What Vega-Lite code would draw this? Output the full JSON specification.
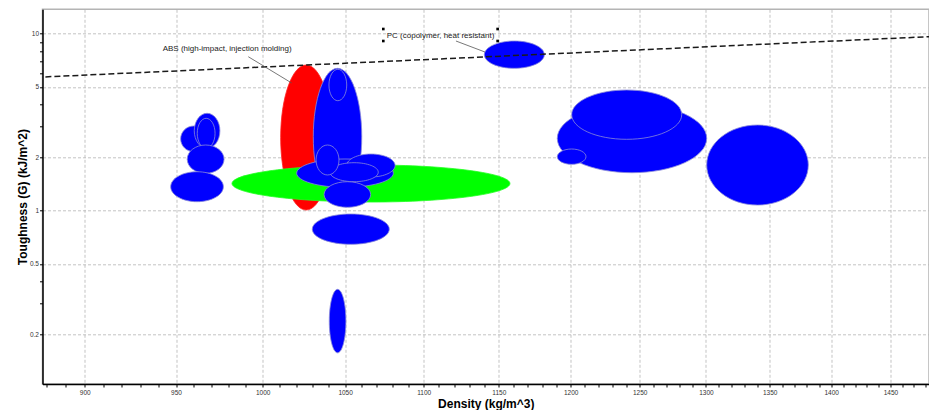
{
  "$schema": "https://vega.github.io/schema/vega-lite/v6.json",
  "width": 886.5,
  "height": 374.7,
  "autosize": {"type": "none"},
  "padding": {"left": 42.5, "top": 9.3, "right": 0, "bottom": 26},
  "background": "white",
  "config": {
    "font": "Liberation Sans",
    "view": {"stroke": "#b4b4b4", "strokeWidth": 1.5}
  },
  "datasets": {
    "ellipses": [
      {"name": "Material 1", "group": "Polymer", "rho_lo": 952.6, "rho_hi": 967.4, "g_lo": 2.153, "g_hi": 3.008},
      {"name": "Material 2", "group": "Polymer", "rho_lo": 960.3, "rho_hi": 975.0, "g_lo": 2.250, "g_hi": 3.549},
      {"name": "Material 3", "group": "Polymer", "rho_lo": 962.0, "rho_hi": 972.2, "g_lo": 2.250, "g_hi": 3.325},
      {"name": "Material 4", "group": "Polymer", "rho_lo": 956.3, "rho_hi": 977.4, "g_lo": 1.625, "g_hi": 2.349},
      {"name": "Material 5", "group": "Polymer", "rho_lo": 947.0, "rho_hi": 977.0, "g_lo": 1.123, "g_hi": 1.659},
      {"name": "ABS (high-impact, injection molding)", "group": "ABS", "rho_lo": 1010.7, "rho_hi": 1041.7, "g_lo": 1.008, "g_hi": 6.653},
      {"name": "Material 7", "group": "Polymer", "rho_lo": 1030.4, "rho_hi": 1060.4, "g_lo": 1.075, "g_hi": 6.374},
      {"name": "Material 8", "group": "Polymer", "rho_lo": 1040.0, "rho_hi": 1051.0, "g_lo": 4.181, "g_hi": 6.291},
      {"name": "Material 9", "group": "Blend", "rho_lo": 982.0, "rho_hi": 1157.6, "g_lo": 1.118, "g_hi": 1.811},
      {"name": "Material 10", "group": "Polymer", "rho_lo": 1020.3, "rho_hi": 1080.4, "g_lo": 1.354, "g_hi": 1.958},
      {"name": "Material 11", "group": "Polymer", "rho_lo": 1051.0, "rho_hi": 1081.5, "g_lo": 1.549, "g_hi": 2.089},
      {"name": "Material 12", "group": "Polymer", "rho_lo": 1040.6, "rho_hi": 1070.8, "g_lo": 1.457, "g_hi": 1.866},
      {"name": "Material 13", "group": "Polymer", "rho_lo": 1032.1, "rho_hi": 1046.2, "g_lo": 1.590, "g_hi": 2.349},
      {"name": "Material 14", "group": "Polymer", "rho_lo": 1037.0, "rho_hi": 1066.0, "g_lo": 1.044, "g_hi": 1.457},
      {"name": "Material 15", "group": "Polymer", "rho_lo": 1029.8, "rho_hi": 1077.8, "g_lo": 0.645, "g_hi": 0.957},
      {"name": "Material 16", "group": "Polymer", "rho_lo": 1040.2, "rho_hi": 1050.5, "g_lo": 0.157, "g_hi": 0.359},
      {"name": "PC (copolymer, heat resistant)", "group": "Polymer", "rho_lo": 1140.2, "rho_hi": 1181.4, "g_lo": 6.374, "g_hi": 9.094},
      {"name": "Material 18", "group": "Polymer", "rho_lo": 1190.5, "rho_hi": 1300.6, "g_lo": 1.638, "g_hi": 4.005},
      {"name": "Material 19", "group": "Polymer", "rho_lo": 1200.7, "rho_hi": 1281.5, "g_lo": 2.530, "g_hi": 4.806},
      {"name": "Material 20", "group": "Polymer", "rho_lo": 1190.5, "rho_hi": 1210.9, "g_lo": 1.827, "g_hi": 2.230},
      {"name": "Material 21", "group": "Polymer", "rho_lo": 1300.6, "rho_hi": 1381.2, "g_lo": 1.075, "g_hi": 3.047}
    ],
    "guide": [
      {"density": 870, "toughness": 5.641},
      {"density": 1500, "toughness": 9.726}
    ],
    "leaders": [
      {"density": 991.5, "toughness": 7.413, "density2": 1017.3, "toughness2": 5.264},
      {"density": 1121.2, "toughness": 9.094, "density2": 1140.6, "toughness2": 7.881}
    ],
    "labels": [
      {"density": 942.5, "toughness": 8.162, "label": "ABS (high-impact, injection molding)"},
      {"density": 1076.2, "toughness": 9.743, "label": "PC (copolymer, heat resistant)"}
    ],
    "handles": [
      {"density": 1074.0, "toughness": 10.631},
      {"density": 1074.0, "toughness": 9.094},
      {"density": 1149.2, "toughness": 10.631},
      {"density": 1149.2, "toughness": 9.094}
    ]
  },
  "layer": [
    {
      "data": {"name": "ellipses"},
      "transform": [
        {"calculate": "sqrt(datum.rho_lo*datum.rho_hi)", "as": "density"},
        {"calculate": "sqrt(datum.g_lo*datum.g_hi)", "as": "toughness"},
        {"calculate": "log(datum.rho_hi/datum.rho_lo)/LN10", "as": "span_x"},
        {"calculate": "log(datum.g_hi/datum.g_lo)/LN10", "as": "span_y"},
        {"calculate": "format(datum.span_y*176.9/(datum.span_x*3890), '.4f')", "as": "ratio"},
        {"calculate": "'M-1,0A1,' + datum.ratio + ',0,1,1,1,0A1,' + datum.ratio + ',0,1,1,-1,0Z'", "as": "outline"}
      ],
      "mark": {"type": "point", "filled": true, "opacity": 1, "strokeWidth": 0.8, "strokeOpacity": 1},
      "encoding": {
        "x": {
          "field": "density", "type": "quantitative", "title": "Density (kg/m^3)",
          "scale": {"type": "log", "domain": [877.8, 1483.5], "nice": false, "zero": false},
          "axis": {
            "orient": "bottom",
            "values": [880, 890, 900, 910, 920, 930, 940, 950, 960, 970, 980, 990, 1000, 1010, 1020, 1030, 1040, 1050, 1060, 1070, 1080, 1090, 1100, 1110, 1120, 1130, 1140, 1150, 1160, 1170, 1180, 1190, 1200, 1210, 1220, 1230, 1240, 1250, 1260, 1270, 1280, 1290, 1300, 1310, 1320, 1330, 1340, 1350, 1360, 1370, 1380, 1390, 1400, 1410, 1420, 1430, 1440, 1450, 1460, 1470, 1480],
            "format": "d",
            "labelExpr": "datum.value % 50 === 0 ? datum.label : ''",
            "labelOverlap": false,
            "labelFlush": false,
            "labelBound": false,
            "labelFontSize": 6.5,
            "labelColor": "#333333",
            "labelPadding": 2.5,
            "domainColor": "#000000",
            "domainWidth": 1.5,
            "tickColor": "#000000",
            "tickSize": 3,
            "tickWidth": 1,
            "grid": true,
            "gridColor": "#b4b4b4",
            "gridDash": [3, 2],
            "gridWidth": 0.8,
            "gridOpacity": {"condition": {"test": "datum.value % 50 === 0", "value": 1}, "value": 0},
            "titleFontSize": 12,
            "titleFontWeight": "bold",
            "titleColor": "#000000",
            "titleY": 19.5,
            "titleBaseline": "middle"
          }
        },
        "y": {
          "field": "toughness", "type": "quantitative", "title": "Toughness (G) (kJ/m^2)",
          "scale": {"type": "log", "domain": [0.1047, 13.74], "nice": false, "zero": false},
          "axis": {
            "values": [0.2, 0.3, 0.4, 0.5, 1, 2, 3, 4, 5, 6, 7, 8, 9, 10],
            "format": "~g",
            "labelExpr": "indexof([0.2, 0.5, 1, 2, 5, 10], datum.value) >= 0 ? datum.label : ''",
            "labelOverlap": false,
            "labelFlush": false,
            "labelBound": false,
            "labelFontSize": 6.5,
            "labelColor": "#333333",
            "labelPadding": 1,
            "domainColor": "#000000",
            "domainWidth": 1.5,
            "tickColor": "#000000",
            "tickSize": 3,
            "tickWidth": 1,
            "grid": true,
            "gridColor": "#b4b4b4",
            "gridDash": [3, 2],
            "gridWidth": 0.8,
            "gridOpacity": {"condition": {"test": "indexof([0.2, 0.5, 1, 2, 5, 10], datum.value) >= 0", "value": 1}, "value": 0},
            "titleFontSize": 12,
            "titleFontWeight": "bold",
            "titleColor": "#000000",
            "titleX": -20.5,
            "titleY": 187.35,
            "titleBaseline": "middle"
          }
        },
        "size": {"field": "span_x", "type": "quantitative", "scale": {"type": "pow", "exponent": 2, "domain": [0, 0.1], "range": [0, 151321]}, "legend": null},
        "shape": {"field": "outline", "type": "nominal", "scale": null},
        "color": {"field": "group", "type": "nominal", "scale": {"domain": ["ABS", "Blend", "Polymer"], "range": ["#ff0000", "#00ff00", "#0000ff"]}, "legend": null},
        "stroke": {"field": "group", "type": "nominal", "scale": {"domain": ["ABS", "Blend", "Polymer"], "range": ["#ff2020", "#20ff20", "#8a8ad8"]}, "legend": null}
      }
    },
    {
      "data": {"name": "guide"},
      "mark": {"type": "line", "color": "#1a1a1a", "strokeWidth": 1.5, "strokeDash": [6, 3], "clip": true},
      "encoding": {
        "x": {"field": "density", "type": "quantitative", "title": "Density (kg/m^3)", "scale": {"type": "log", "domain": [877.8, 1483.5], "nice": false, "zero": false}},
        "y": {"field": "toughness", "type": "quantitative", "title": "Toughness (G) (kJ/m^2)", "scale": {"type": "log", "domain": [0.1047, 13.74], "nice": false, "zero": false}}
      }
    },
    {
      "data": {"name": "leaders"},
      "mark": {"type": "rule", "color": "#555555", "strokeWidth": 0.8},
      "encoding": {
        "x": {"field": "density", "type": "quantitative", "title": "Density (kg/m^3)", "scale": {"type": "log", "domain": [877.8, 1483.5], "nice": false, "zero": false}},
        "y": {"field": "toughness", "type": "quantitative", "title": "Toughness (G) (kJ/m^2)", "scale": {"type": "log", "domain": [0.1047, 13.74], "nice": false, "zero": false}},
        "x2": {"field": "density2"},
        "y2": {"field": "toughness2"}
      }
    },
    {
      "data": {"name": "labels"},
      "mark": {"type": "text", "align": "left", "baseline": "middle", "fontSize": 8, "color": "#222222"},
      "encoding": {
        "x": {"field": "density", "type": "quantitative", "title": "Density (kg/m^3)", "scale": {"type": "log", "domain": [877.8, 1483.5], "nice": false, "zero": false}},
        "y": {"field": "toughness", "type": "quantitative", "title": "Toughness (G) (kJ/m^2)", "scale": {"type": "log", "domain": [0.1047, 13.74], "nice": false, "zero": false}},
        "text": {"field": "label"}
      }
    },
    {
      "data": {"name": "handles"},
      "mark": {"type": "point", "shape": "square", "filled": true, "size": 7, "color": "#000000", "opacity": 1},
      "encoding": {
        "x": {"field": "density", "type": "quantitative", "title": "Density (kg/m^3)", "scale": {"type": "log", "domain": [877.8, 1483.5], "nice": false, "zero": false}},
        "y": {"field": "toughness", "type": "quantitative", "title": "Toughness (G) (kJ/m^2)", "scale": {"type": "log", "domain": [0.1047, 13.74], "nice": false, "zero": false}}
      }
    }
  ]
}
